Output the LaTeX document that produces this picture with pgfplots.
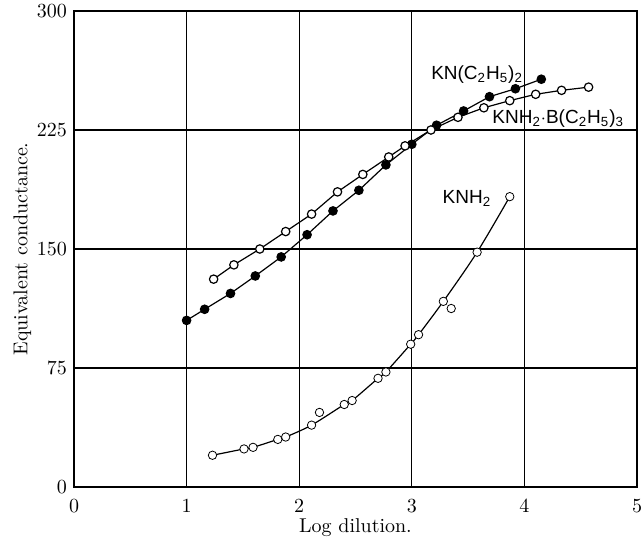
\documentclass[border=0pt]{standalone}
\usepackage{fontspec}
\newfontfamily\lab{Liberation Sans}
\usepackage{pgfplots}
\pgfplotsset{compat=1.18}
\usetikzlibrary{calc}

\begin{document}
\begin{tikzpicture}
\begin{axis}[
  scale only axis, width=281.5pt, height=238pt,
  xmin=0, xmax=5, ymin=0, ymax=300,
  xtick={0,1,2,3,4,5}, ytick={0,75,150,225,300},
  major tick length=0pt,
  grid=major, grid style={black, line width=0.6pt},
  axis line style={black, line width=0.6pt},
  xlabel={Log dilution.}, ylabel={Equivalent conductance.},
  xlabel style={yshift=4pt}, ylabel style={yshift=-4pt},
  xticklabel style={yshift=-3pt},
  every mark/.append style={solid, line width=0.5pt},
  mark size=2.1pt,
]
% KN(C2H5)2, filled circles
\addplot[black, line width=0.6pt, mark=*, mark options={fill=black}] coordinates {
 (1.00,105) (1.16,112) (1.39,122) (1.61,133) (1.84,145) (2.07,159) (2.30,174)
 (2.53,187) (2.77,203) (3.00,216) (3.22,228) (3.46,237) (3.69,246) (3.92,251) (4.15,257)};
% KNH2.B(C2H5)3, open circles
\addplot[black, line width=0.6pt, mark=*, mark options={fill=white, draw=black}] coordinates {
 (1.24,131) (1.42,140) (1.65,150) (1.88,161) (2.11,172) (2.34,186) (2.565,197)
 (2.795,208) (2.94,215) (3.17,225) (3.41,233) (3.64,239) (3.87,243.5) (4.10,247.5)
 (4.33,250) (4.57,252)};
% KNH2, smooth line through points
\addplot[black, line width=0.6pt, smooth, tension=0.5] coordinates {
 (1.23,20) (1.51,24) (1.59,25) (1.81,30) (1.88,31.5) (2.11,39) (2.40,52) (2.47,54.5)
 (2.70,68.5) (2.77,72.5) (2.99,90) (3.06,96) (3.28,117) (3.58,148) (3.87,183)};
\addplot[only marks, mark=*, mark options={fill=white, draw=black}] coordinates {
 (1.23,20) (1.51,24) (1.59,25) (1.81,30) (1.88,31.5) (2.11,39) (2.18,47) (2.40,52)
 (2.47,54.5) (2.70,68.5) (2.77,72.5) (2.99,90) (3.06,96) (3.28,117) (3.35,112.5)
 (3.58,148) (3.87,183)};
\node[font=\lab\fontsize{9.5}{12}\selectfont] at (axis cs:3.58,260) {KN(C\textsubscript{2}H\textsubscript{5})\textsubscript{2}};
\node[font=\lab\fontsize{9.5}{12}\selectfont] at (axis cs:4.30,232) {KNH\textsubscript{2}$\cdot$B(C\textsubscript{2}H\textsubscript{5})\textsubscript{3}};
\node[font=\lab\fontsize{9.5}{12}\selectfont] at (axis cs:3.49,182) {KNH\textsubscript{2}};
\coordinate (ll) at (rel axis cs:0,0);
\coordinate (ur) at (rel axis cs:1,1);
\end{axis}
\pgfresetboundingbox
\useasboundingbox ($(ll)+(-37pt,-28.5pt)$) rectangle ($(ur)+(2.5pt,5.5pt)$);
\end{tikzpicture}
\end{document}
